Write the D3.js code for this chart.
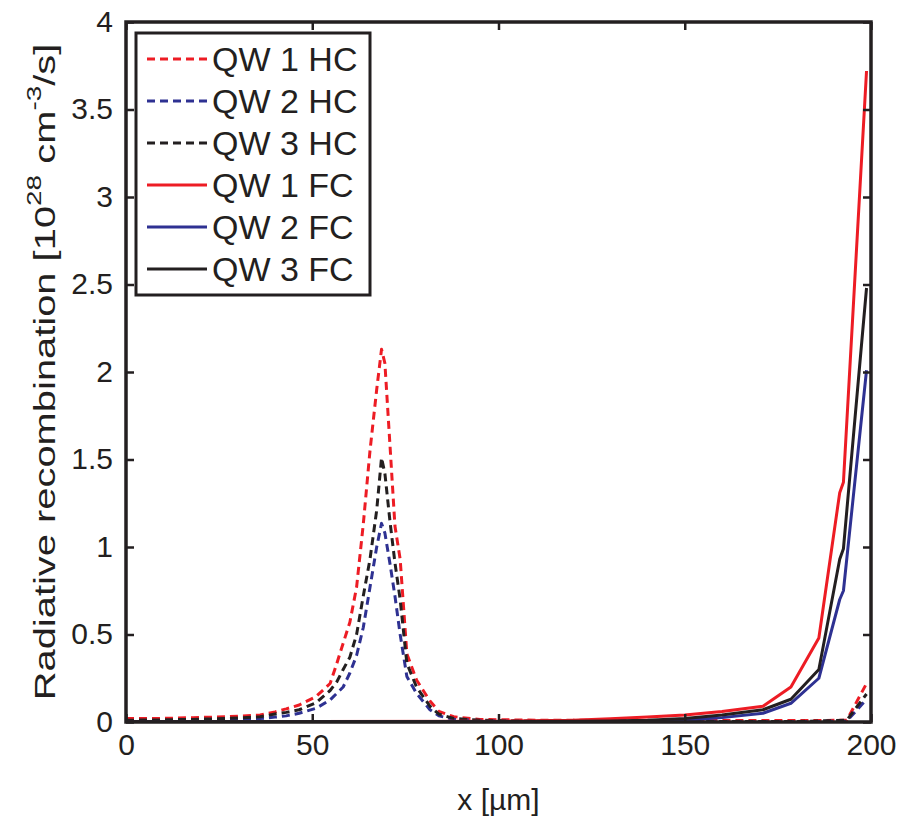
<!DOCTYPE html>
<html>
<head>
<meta charset="utf-8">
<script src="https://cdn.jsdelivr.net/npm/d3@7"></script>
<style>
	body { margin: 0; background: #fff; }
	svg text { font-family: "Liberation Sans", Arial, Helvetica, sans-serif; fill: #231f20; }
</style>
</head>
<body>
<svg id="container"></svg>
<script>
// x positions (um) of the hole-current (HC) and full-current (FC) profiles
const xHC = [0, 9, 18, 27, 36, 40, 43, 46.5, 51, 54.8, 56.6, 58.3, 60.1, 61.9, 63.7, 65.5, 67.3, 68.6, 69.5, 70.9, 72.2, 73.6, 75.4, 78, 81.6, 84, 88, 95, 110, 150, 180, 193.5, 198.8];
const xFC = [0, 50, 100, 120, 130, 140, 150, 160, 171, 178.5, 186, 191.6, 192.6, 198.8];

// radiative recombination [1e28 cm^-3/s]
const qw1HC = [0.02, 0.02, 0.025, 0.03, 0.04, 0.058, 0.075, 0.097, 0.145, 0.22, 0.335, 0.45, 0.57, 0.77, 1.13, 1.55, 1.9, 2.13, 2.05, 1.57, 1.12, 0.93, 0.39, 0.24, 0.12, 0.06, 0.03, 0.015, 0.01, 0.008, 0.008, 0.01, 0.22];
const qw2HC = [0.008, 0.008, 0.01, 0.012, 0.02, 0.028, 0.035, 0.05, 0.078, 0.126, 0.164, 0.2, 0.28, 0.38, 0.54, 0.77, 1.0, 1.135, 1.08, 0.9, 0.72, 0.5, 0.26, 0.164, 0.07, 0.035, 0.015, 0.008, 0.004, 0.002, 0.002, 0.005, 0.13];
const qw3HC = [0.01, 0.012, 0.015, 0.02, 0.03, 0.046, 0.055, 0.07, 0.11, 0.18, 0.23, 0.3, 0.37, 0.5, 0.72, 0.93, 1.21, 1.51, 1.42, 1.14, 0.91, 0.7, 0.335, 0.2, 0.09, 0.045, 0.02, 0.01, 0.005, 0.003, 0.003, 0.01, 0.16];
const qw1FC = [0.003, 0.003, 0.005, 0.01, 0.018, 0.028, 0.04, 0.06, 0.09, 0.2, 0.48, 1.31, 1.37, 3.72];
const qw2FC = [0.001, 0.001, 0.001, 0.002, 0.003, 0.005, 0.01, 0.025, 0.05, 0.107, 0.25, 0.7, 0.75, 2.01];
const qw3FC = [0.002, 0.002, 0.002, 0.004, 0.006, 0.01, 0.02, 0.04, 0.07, 0.13, 0.3, 0.93, 0.99, 2.48];

const legendLabels = ["QW 1 HC", "QW 2 HC", "QW 3 HC", "QW 1 FC", "QW 2 FC", "QW 3 FC"];
const xTicks = [0, 50, 100, 150, 200];
const yTicks = [0, 0.5, 1, 1.5, 2, 2.5, 3, 3.5, 4];

const red = "#ed1c24", blue = "#2e3192", black = "#231f20";

const series = [
	{ name: legendLabels[0], x: xHC, y: qw1HC, color: red, dash: "8,5" },
	{ name: legendLabels[1], x: xHC, y: qw2HC, color: blue, dash: "8,5" },
	{ name: legendLabels[2], x: xHC, y: qw3HC, color: black, dash: "8,5" },
	{ name: legendLabels[3], x: xFC, y: qw1FC, color: red, dash: null },
	{ name: legendLabels[4], x: xFC, y: qw2FC, color: blue, dash: null },
	{ name: legendLabels[5], x: xFC, y: qw3FC, color: black, dash: null }
];

const margin = { top: 22, right: 34, bottom: 103, left: 126 },
	W = 905, H = 825,
	w = W - margin.left - margin.right,
	h = H - margin.top - margin.bottom;

var svg = d3.select("#container").attr("width", W).attr("height", H);
var g = svg.append("g").attr("transform", "translate(" + margin.left + "," + margin.top + ")");

var xScale = d3.scaleLinear().domain([0, 200]).range([0, w]);
var yScale = d3.scaleLinear().domain([0, 4]).range([h, 0]);

// clip lines to plot area
svg.append("defs").append("clipPath").attr("id", "clip")
	.append("rect").attr("width", w).attr("height", h);

var line = d3.line()
	.x(d => xScale(d[0]))
	.y(d => yScale(d[1]));

var body = g.append("g").attr("clip-path", "url(#clip)");
series.forEach(s => {
	body.append("path")
		.datum(s.x.map((xv, i) => [xv, s.y[i]]))
		.attr("d", line)
		.attr("fill", "none")
		.attr("stroke", s.color)
		.attr("stroke-width", 3)
		.attr("stroke-linejoin", "round")
		.attr("stroke-dasharray", s.dash);
});

// axes, ticks pointing inward
var fontSize = 30;
var gx = g.append("g").attr("transform", "translate(0," + h + ")")
	.call(d3.axisBottom(xScale).tickValues(xTicks).tickSizeInner(-8).tickSizeOuter(0).tickPadding(12));
var gy = g.append("g")
	.call(d3.axisLeft(yScale).tickValues(yTicks).tickFormat(d3.format("")).tickSizeInner(-8).tickSizeOuter(0).tickPadding(13));
var gxTop = g.append("g")
	.call(d3.axisTop(xScale).tickValues(xTicks).tickSizeInner(-8).tickSizeOuter(0).tickFormat(""));
var gyRight = g.append("g").attr("transform", "translate(" + w + ",0)")
	.call(d3.axisRight(yScale).tickValues(yTicks).tickSizeInner(-8).tickSizeOuter(0).tickFormat(""));

[gx, gy, gxTop, gyRight].forEach(a => {
	a.select(".domain").remove();
	a.selectAll(".tick line").attr("stroke", black).attr("stroke-width", 2.5);
	a.selectAll(".tick text").attr("font-size", fontSize).attr("font-family", null).style("fill", black);
});
gy.selectAll(".tick text").attr("dy", "0.3em");

// frame
g.append("rect")
	.attr("width", w).attr("height", h)
	.attr("fill", "none").attr("stroke", black).attr("stroke-width", 3.5);

// axis labels
svg.append("text")
	.attr("x", margin.left + w / 2).attr("y", 810)
	.attr("text-anchor", "middle")
	.attr("font-size", 30)
	.text("x [\u00b5m]");

// y label is stretched along its length like in the original figure
var ylab = svg.append("text")
	.attr("transform", "translate(55," + (margin.top + h / 2) + ") rotate(-90) scale(1.33,1)")
	.attr("text-anchor", "middle")
	.attr("font-size", 30);
ylab.append("tspan").text("Radiative recombination [10");
ylab.append("tspan").attr("font-size", 21).attr("dy", -14).text("28");
ylab.append("tspan").attr("dy", 14).text(" cm");
ylab.append("tspan").attr("font-size", 21).attr("dy", -14).text("-3");
ylab.append("tspan").attr("dy", 14).text("/s]");

// legend
var leg = svg.append("g").attr("transform", "translate(136,33)");
leg.append("rect")
	.attr("width", 234).attr("height", 262)
	.attr("fill", "#fff").attr("stroke", black).attr("stroke-width", 3);
series.forEach((s, i) => {
	var yy = 26 + i * 42;
	leg.append("line")
		.attr("x1", 11).attr("x2", 71).attr("y1", yy).attr("y2", yy)
		.attr("stroke", s.color).attr("stroke-width", 3)
		.attr("stroke-dasharray", s.dash);
	leg.append("text")
		.attr("x", 76).attr("y", yy).attr("dy", "0.36em")
		.attr("font-size", 34)
		.text(s.name);
});
</script>
</body>
</html>
